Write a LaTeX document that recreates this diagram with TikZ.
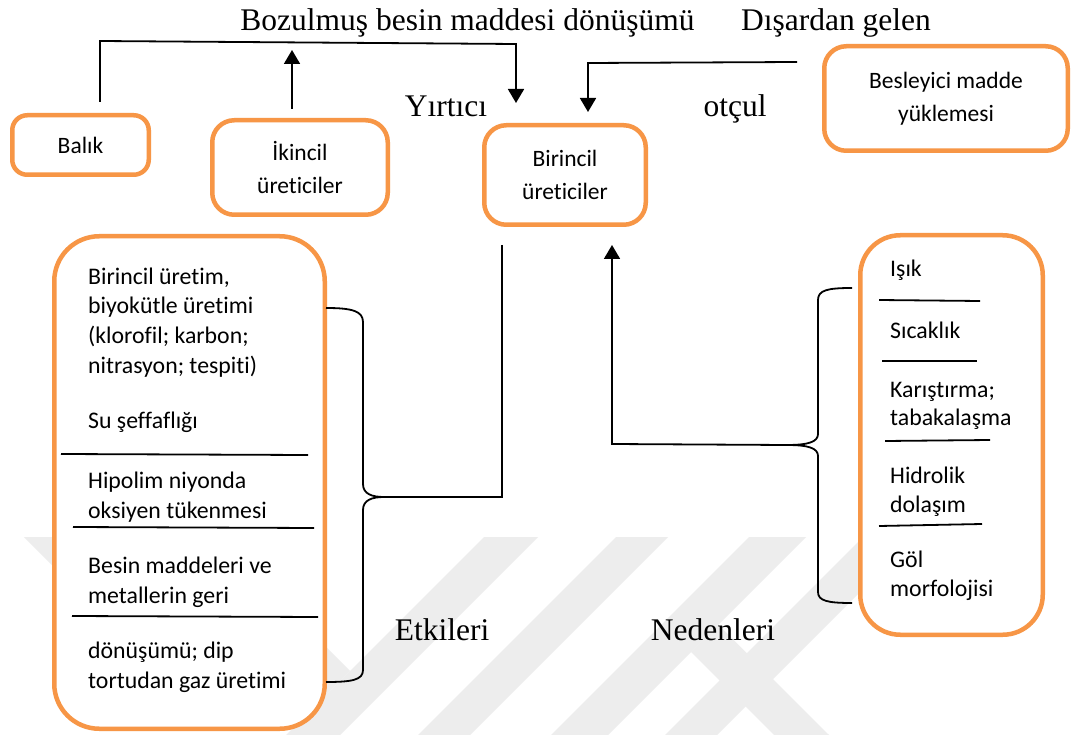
\documentclass[tikz,border=0pt]{standalone}
\usepackage{fontspec}
\setmainfont{Liberation Serif}
\newfontfamily\boxfont[Ligatures={NoCommon,NoContextual}]{Carlito}
\usetikzlibrary{arrows.meta}
\definecolor{boxorange}{HTML}{F79646}
\definecolor{wmark}{HTML}{EDEDED}
\begin{document}
\begin{tikzpicture}[x=1pt,y=-1pt,
  obox/.style={draw=boxorange, line width=4.5pt, fill=white, inner sep=0pt, align=center,
               font=\boxfont\fontsize{23.5}{33}\selectfont},
  ltxt/.style={anchor=west, inner sep=0pt, align=left, font=\boxfont\fontsize{23.8}{29.7}\selectfont},
  rtxt/.style={anchor=west, inner sep=0pt, align=left, font=\boxfont\fontsize{23.8}{28.7}\selectfont},
  lbl/.style={anchor=base, inner sep=0pt, font=\fontsize{31.5}{36}\selectfont},
  conn/.style={line width=1.8pt},
  arr/.style={conn, -{Triangle[width=16pt,length=14pt]}},
  sepline/.style={line width=1.8pt},
  wm/.style={fill=wmark, draw=none}]
\useasboundingbox (0,0) rectangle (1071,735);
\fill[white] (0,0) rectangle (1071,735);

% faint background watermark
\fill[wm] (484,537) -- (538,537) -- (340,735) -- (286,735) -- cycle;
\fill[wm] (616,537) -- (668,537) -- (470,735) -- (418,735) -- cycle;
\fill[wm] (749,537) -- (806,537) -- (608,735) -- (551,735) -- cycle;
\fill[wm] (863,537) -- (915,537) -- (717,735) -- (665,735) -- cycle;
\fill[wm] (166,537) -- (216,537) -- (350,671) -- (325,696) -- cycle;
\fill[wm] (24,537) -- (76,537) -- (200,661) -- (148,661) -- cycle;
\fill[wm] (691,652) -- (718,624.5) -- (829,735) -- (774,735) -- cycle;

% boxes
\node[obox, rounded corners=15pt, minimum width=136.5pt, minimum height=59.5pt] (balik) at (80.5,145) {Balık};
\node[obox, rounded corners=22pt, minimum width=175.5pt, minimum height=94.5pt] (ikincil) at (300,167.5) {İkincil\\üreticiler};
\node[obox, rounded corners=22pt, minimum width=161.5pt, minimum height=99.5pt] (birincil) at (565,175) {Birincil\\üreticiler};
\node[obox, rounded corners=22pt, minimum width=243.5pt, minimum height=104.5pt] (besley) at (946,98.5) {Besleyici madde\\yüklemesi};
\node[obox, rounded corners=45pt, minimum width=270.5pt, minimum height=492.5pt] (leftbox) at (189.5,482.5) {};
\node[obox, rounded corners=40pt, minimum width=182.5pt, minimum height=399.5pt] (rightbox) at (951.5,435) {};

% texts in the left box
\node[ltxt] (l1) at (88,322.5) {Birincil üretim,\\biyokütle üretimi\\(klorofil; karbon;\\nitrasyon; tespiti)};
\node[ltxt] (l2) at (88,422) {Su şeffaflığı};
\node[ltxt] (l3) at (88,497) {Hipolim niyonda\\oksiyen tükenmesi};
\node[ltxt] (l4) at (88,582.5) {Besin maddeleri ve\\metallerin geri};
\node[ltxt] (l5) at (88,667.5) {dönüşümü; dip\\tortudan gaz üretimi};
\draw[sepline] (61,454) -- (308,455);
\draw[sepline] (73,527) -- (314,528);
\draw[sepline] (72,616) -- (318,617);

% texts in the right box
\node[rtxt] (r1) at (890,270) {Işık};
\node[rtxt] (r2) at (890,330) {Sıcaklık};
\node[rtxt] (r3) at (890,406) {Karıştırma;\\tabakalaşma};
\node[rtxt] (r4) at (890,491.5) {Hidrolik\\dolaşım};
\node[rtxt] (r5) at (890,576) {Göl\\morfolojisi};
\draw[sepline] (879,300) -- (980,301);
\draw[sepline] (882,361) -- (977,361);
\draw[sepline] (885,441) -- (990,440);
\draw[sepline] (879,526) -- (982,524);

% labels
\node[lbl] (bozul) at (467.5,31) {Bozulmuş besin maddesi dönüşümü};
\node[lbl] (disar) at (836,31) {Dışardan gelen};
\node[lbl] (yirt) at (446,117) {Yırtıcı};
\node[lbl] (otcul) at (735,117) {otçul};
\node[lbl] (etk) at (442,640) {Etkileri};
\node[lbl] (ned) at (713,640) {Nedenleri};

% connector coordinates
\coordinate (bk) at (100,102);
\coordinate (bt) at (516,103);
\coordinate (ik) at (292,109);
\coordinate (ikt) at (292,50);
\coordinate (dg) at (797,62);
\coordinate (dgt) at (588,112);
\coordinate (bd) at (502,245);
\coordinate (ltip) at (384,497);
\coordinate (rtip) at (787,445);
\coordinate (bu) at (612,245);

% top connectors
\draw[arr] (bk) -- (100,41) -- (516,44) -- (bt);
\draw[arr] (ik) -- (ikt);
\draw[arr] (dg) -- (588,63) -- (dgt);

% lower connectors
\draw[conn] (bd) -- (502,497) -- (ltip);
\draw[arr] (rtip) -- (612,444) -- (bu);

% braces
\draw[conn] (326,308) .. controls (352,308) and (363,311) .. (363,322) -- (363,484)
  .. controls (363,494) and (372,497) .. (ltip)
  .. controls (372,497) and (363,500) .. (363,510) -- (363,670)
  .. controls (363,680) and (352,682) .. (326,682);
\draw[conn] (852,288) .. controls (828,288) and (818,290) .. (818,300) -- (818,434)
  .. controls (818,442) and (808,445) .. (rtip)
  .. controls (808,445) and (818,448) .. (818,456) -- (818,592)
  .. controls (818,601) and (828,603) .. (852,603);
\end{tikzpicture}
\end{document}
